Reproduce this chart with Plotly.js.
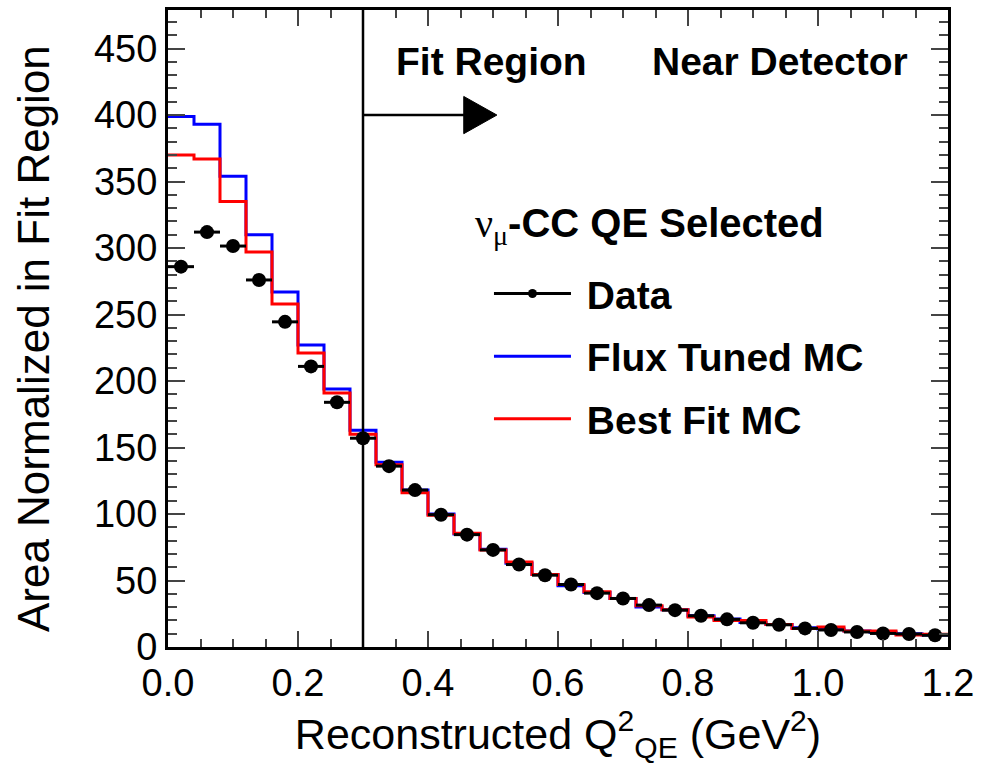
<!DOCTYPE html>
<html>
<head>
<meta charset="utf-8">
<script src="https://cdn.plot.ly/plotly-3.0.1.min.js"></script>
<style>html,body{margin:0;padding:0;background:#fff;}#chart{width:982px;height:768px;}</style>
</head>
<body>
<div id="chart"></div>
<script>
// Bin edges of reconstructed Q^2_QE (GeV^2)
var binEdges = [0.00,0.04,0.08,0.12,0.16,0.20,0.24,0.28,0.32,0.36,0.40,0.44,0.48,0.52,0.56,0.60,
                0.64,0.68,0.72,0.76,0.80,0.84,0.88,0.92,0.96,1.00,1.04,1.08,1.12,1.16,1.20];
// Bin centres
var binCenters = [0.02,0.06,0.10,0.14,0.18,0.22,0.26,0.30,0.34,0.38,0.42,0.46,0.50,0.54,0.58,
                  0.62,0.66,0.70,0.74,0.78,0.82,0.86,0.90,0.94,0.98,1.02,1.06,1.10,1.14,1.18];
var binHalfWidth = 0.02;

var dataValues = [286,312,301.5,276,244.5,211,184,157,136,118,99.5,84.5,73,62,54,47,40.5,36.5,
                  31.5,27.7,23.5,20.8,18.2,16.7,14,12.8,11.3,10.2,9.8,8.8];
var fluxTunedMC = [399,393,354,310,267,227,194,163,139,118,100,85,73.5,63,54.5,46,41,36.5,
                   30,28,23.5,21,18.5,17,14.5,13.5,12,11,10,9];
var bestFitMC = [370,367,335,297,258,221,191,160,137,116,99,85.5,73,64,54.5,47,41.5,36.5,
                 31,28,22.5,20,20,17,14,15,12,12,9,9.5];

var xTickVals = [0,0.2,0.4,0.6,0.8,1.0,1.2];
var yTickVals = [0,50,100,150,200,250,300,350,400,450];

function stepY(v){ return v.concat([v[v.length-1]]); }

var FONT = 'Liberation Sans, Arial, Helvetica, sans-serif';
var GAP = '\u00a0';

var traces = [
  {x: binEdges, y: stepY(fluxTunedMC), type:'scatter', mode:'lines', line:{shape:'hv', color:'#0000ff', width:3},
   name:GAP+'<b>Flux Tuned MC</b>', legendgroup:'b', legendrank:2},
  {x: binEdges, y: stepY(bestFitMC), type:'scatter', mode:'lines', line:{shape:'hv', color:'#ff0000', width:3},
   name:GAP+'<b>Best Fit MC</b>', legendgroup:'c', legendrank:3},
  {x: binCenters, y: dataValues, type:'scatter', mode:'markers', marker:{color:'#000', size:14},
   error_x:{type:'constant', value:binHalfWidth, thickness:3, width:0, color:'#000'},
   showlegend:false, name:'Data'},
  {x:[null], y:[null], type:'scatter', mode:'lines+markers', line:{color:'#000', width:3},
   marker:{color:'#000', size:9}, name:GAP+'<b>Data</b>', legendgroup:'a', legendrank:1}
];

var layout = {
  width:982, height:768,
  margin:{l:168, r:34, t:10, b:121},
  paper_bgcolor:'#fff', plot_bgcolor:'#fff',
  font:{family:FONT, color:'#000', size:37},
  showlegend:true,
  legend:{x:0.4115, y:0.605, xanchor:'left', yanchor:'top', bgcolor:'rgba(0,0,0,0)',
          itemwidth:77, tracegroupgap:9, traceorder:'grouped',
          font:{family:FONT, size:39, color:'#000'}},
  xaxis:{range:[0,1.2], tickvals:xTickVals, tickformat:'.1f', ticks:'inside', ticklen:16, tickwidth:2,
         minor:{dtick:0.05, ticks:'inside', ticklen:8, tickwidth:2, showgrid:false},
         showline:true, linewidth:3, linecolor:'#000', mirror:'allticks', showgrid:false, zeroline:false,
         tickfont:{size:38},
         title:{text:'Reconstructed Q<sup>2</sup><sub>QE</sub> (GeV<sup>2</sup>)', font:{size:43}, standoff:6}},
  yaxis:{range:[0,479], tickvals:yTickVals, ticks:'inside', ticklen:17, tickwidth:2,
         minor:{dtick:10, ticks:'inside', ticklen:9, tickwidth:2, showgrid:false},
         showline:true, linewidth:3, linecolor:'#000', mirror:'allticks', showgrid:false, zeroline:false,
         tickfont:{size:38},
         title:{text:''}},
  shapes:[
    {type:'line', xref:'x', yref:'paper', x0:0.3, x1:0.3, y0:0, y1:1, line:{color:'#000', width:2.5}},
    {type:'line', xref:'x', yref:'y', x0:0.3, x1:0.46, y0:400, y1:400, line:{color:'#000', width:2.5}},
    {type:'path', xref:'x', yref:'y', path:'M 0.455 414 L 0.506 400 L 0.455 386 Z', fillcolor:'#000', line:{color:'#000', width:1}}
  ],
  annotations:[
    {text:'Area Normalized in Fit Region', x:-0.173, y:0.4835, xref:'paper', yref:'paper',
     xanchor:'center', yanchor:'middle', textangle:-90, showarrow:false, font:{size:44}},
    {text:'<b>Fit Region</b>', x:0.497, y:440, xref:'x', yref:'y', showarrow:false, font:{size:39}},
    {text:'<b>Near Detector</b>', x:0.9415, y:440, xref:'x', yref:'y', showarrow:false, font:{size:39}},
    {text:'<span style="font-family:Liberation Serif">ν<sub>μ</sub></span><b>-CC QE Selected</b>',
     x:0.391, y:0.661, xref:'paper', yref:'paper', xanchor:'left', yanchor:'middle', showarrow:false, font:{size:40}}
  ]
};

Plotly.newPlot('chart', traces, layout, {staticPlot:true, displayModeBar:false});
</script>
</body>
</html>
